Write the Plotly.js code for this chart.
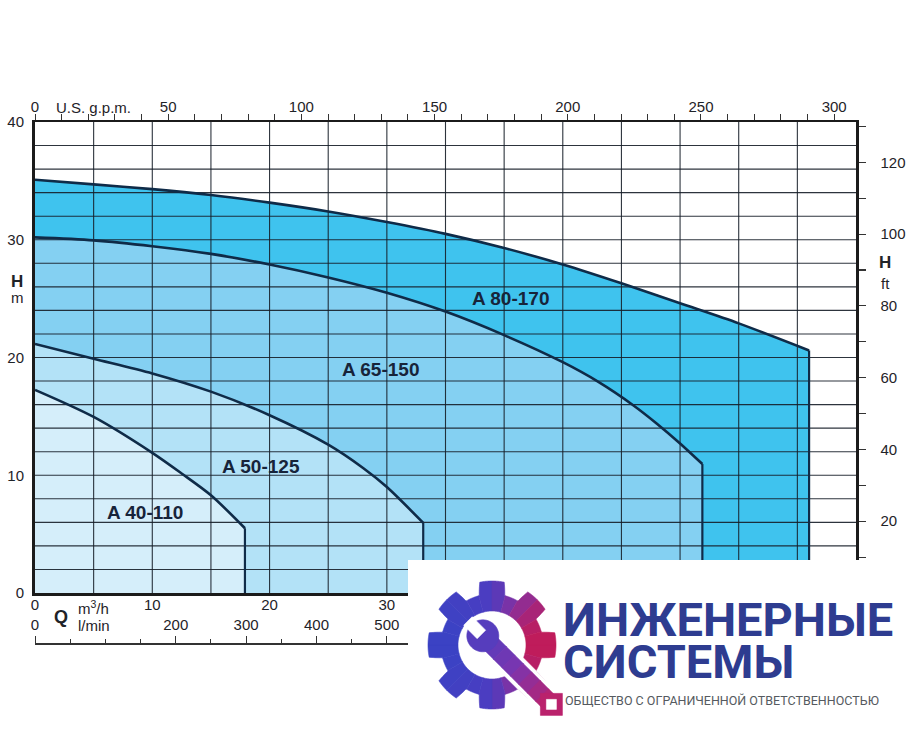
<!DOCTYPE html>
<html>
<head>
<meta charset="utf-8">
<script src="https://cdn.plot.ly/plotly-3.0.1.min.js"></script>
<style>html,body{margin:0;padding:0;background:#fff}#chart{width:908px;height:743px}</style>
</head>
<body>
<div id="chart"></div>
<script>
// ---------------- data ----------------
const pumpNames = ['A 80-170', 'A 65-150', 'A 50-125', 'A 40-110'];

// flow Q in m3/h, head H in m
const q80 = [0, 5, 10, 15, 20, 25, 30, 35, 40, 45, 50, 55, 60, 66];
const h80 = [35.1, 34.7, 34.3, 33.8, 33.15, 32.4, 31.5, 30.5, 29.3, 27.9, 26.3, 24.6, 22.9, 20.6];

const q65 = [0, 5, 10, 15, 20, 25, 30, 35, 40, 45, 48, 51, 53, 55, 56.9];
const h65 = [30.2, 29.95, 29.45, 28.8, 27.9, 26.8, 25.5, 23.9, 21.9, 19.6, 17.95, 15.95, 14.4, 12.7, 10.95];

const q50 = [0, 5, 10, 15, 20, 25, 28, 30, 33.1];
const h50 = [21.15, 19.9, 18.65, 17.1, 15.1, 12.6, 10.6, 9.0, 5.95];

const q40 = [0, 5, 10, 12.5, 15, 17.9];
const h40 = [17.25, 14.95, 11.9, 10.15, 8.3, 5.5];

const qTicks = [0, 10, 20, 30];
const hTicks = [0, 10, 20, 30, 40];
const gpmTicks = [0, 50, 100, 150, 200, 250, 300];
const lminTicks = [0, 200, 300, 400, 500];
const ftTicks = [20, 40, 60, 80, 100, 120];

// ---------------- constants / styles ----------------
const Q_MAX = 70, H_MAX = 40;
const GPM = 4.40287, LPM = 1000 / 60, FT = 3.28084;
const FONT = 'Liberation Sans, Arial, sans-serif';
const INK = '#1f2328';
const CURVE = '#0f2b48';

const series = [
  {q: q80, h: h80, fill: '#3fc3ee'},
  {q: q65, h: h65, fill: '#84d0f2'},
  {q: q50, h: h50, fill: '#b3e2f7'},
  {q: q40, h: h40, fill: '#d5eefa'}
];

// pixel helpers for decorative layout (paper coords)
const L = 35, R = 856, T = 122, PB = 643; // plot left/right/top, paper bottom
const px = x => (x - L) / (R - L);
const py = y => (PB - y) / (PB - T);

const traces = [];
series.forEach(s => {
  traces.push({
    x: s.q, y: s.h, type: 'scatter', mode: 'lines',
    line: {width: 0, color: s.fill, shape: 'spline', smoothing: 0.8},
    fill: 'tozeroy', fillcolor: s.fill, hoverinfo: 'skip'
  });
});

// grid (drawn above fills, below curves)
const gx = [], gy = [];
for (let q = 5; q < Q_MAX; q += 5) { gx.push(q, q, null); gy.push(0, H_MAX, null); }
for (let h = 2; h < H_MAX; h += 2) { gx.push(0, Q_MAX, null); gy.push(h, h, null); }
traces.push({x: gx, y: gy, type: 'scatter', mode: 'lines', connectgaps: false,
  line: {color: 'rgba(22,30,40,0.9)', width: 1.1}, hoverinfo: 'skip'});

series.forEach(s => {
  const n = s.q.length;
  traces.push({x: s.q, y: s.h, type: 'scatter', mode: 'lines',
    line: {color: CURVE, width: 2.6, shape: 'spline', smoothing: 0.8}, hoverinfo: 'skip'});
  traces.push({x: [s.q[n - 1], s.q[n - 1]], y: [s.h[n - 1], 0], type: 'scatter', mode: 'lines',
    line: {color: CURVE, width: 2.2}, hoverinfo: 'skip'});
});

// secondary unit axes (same top curve expressed in other units, invisible)
traces.push({x: q80.map(v => v * GPM), y: h80, xaxis: 'x2', yaxis: 'y', type: 'scatter', mode: 'lines',
  line: {width: 0}, opacity: 0, hoverinfo: 'skip'});
traces.push({x: q80.map(v => v * LPM), y: h80, xaxis: 'x3', yaxis: 'y', type: 'scatter', mode: 'lines',
  line: {width: 0}, opacity: 0, hoverinfo: 'skip'});
traces.push({x: q80, y: h80.map(v => v * FT), xaxis: 'x', yaxis: 'y2', type: 'scatter', mode: 'lines',
  line: {width: 0}, opacity: 0, hoverinfo: 'skip'});

// ---------------- logo graphic (gear + wrench) as shapes ----------------
const shapes = [
  {type: 'rect', xref: 'paper', yref: 'paper', x0: px(408), x1: px(912), y0: py(748), y1: py(560),
    fillcolor: '#ffffff', line: {width: 0}, layer: 'above'}
];
const P = (x, y) => px(x).toFixed(5) + ',' + py(y).toFixed(5);
const poly = (pts, color) => shapes.push({type: 'path', xref: 'paper', yref: 'paper', layer: 'above',
  path: 'M' + pts.map(p => P(p[0], p[1])).join(' L') + ' Z', fillcolor: color,
  line: {color: color, width: 0.6}});
function hex2rgb(h) { return [1, 3, 5].map(i => parseInt(h.substr(i, 2), 16)); }
function grad(stops, t) {
  t = Math.max(0, Math.min(1, t));
  for (let i = 1; i < stops.length; i++) {
    if (t <= stops[i][0]) {
      const a = stops[i - 1], b = stops[i], f = (t - a[0]) / (b[0] - a[0]);
      const ca = hex2rgb(a[1]), cb = hex2rgb(b[1]);
      return 'rgb(' + ca.map((c, k) => Math.round(c + (cb[k] - c) * f)).join(',') + ')';
    }
  }
  return stops[stops.length - 1][1];
}
const GC = [492, 645];
const R_OUT = 64, R_ROOT = 51, R_HOLE = 34;
const gearStops = [[0, '#3b42c4'], [0.5, '#4d3cc0'], [0.75, '#86309f'], [1, '#c01c5a']];
function gearR(deg) {
  let d = ((deg + 90) % 45 + 45) % 45; if (d > 22.5) d -= 45; d = Math.abs(d);
  if (d <= 11) return R_OUT;
  if (d >= 14.5) return R_ROOT;
  return R_OUT - (d - 11) / 3.5 * (R_OUT - R_ROOT);
}
const rad = Math.PI / 180;
for (let a0 = 0; a0 < 360; a0 += 15) {
  const pts = [];
  for (let a = a0; a <= a0 + 15 + 1e-9; a += 0.5) {
    const r = gearR(a); pts.push([GC[0] + r * Math.cos(a * rad), GC[1] + r * Math.sin(a * rad)]);
  }
  for (let a = a0 + 15; a >= a0 - 1e-9; a -= 1.5) {
    pts.push([GC[0] + R_HOLE * Math.cos(a * rad), GC[1] + R_HOLE * Math.sin(a * rad)]);
  }
  const mid = (a0 + 7.5) * rad;
  poly(pts, grad(gearStops, (Math.cos(mid) + 1) / 2));
}
// wrench, in a frame rotated 45 degrees
const U = [Math.SQRT1_2, Math.SQRT1_2], V = [-Math.SQRT1_2, Math.SQRT1_2];
const W = (s, t) => [GC[0] + s * U[0] + t * V[0], GC[1] + s * U[1] + t * V[1]];
const wrStops = [[0, '#4840c2'], [0.5, '#7a35b0'], [1, '#c81e5e']];
const wrT = s => (s + 30) / 125;
const circle = (s, r, n) => { const p = []; for (let i = 0; i < n; i++) { const a = i * 2 * Math.PI / n;
  p.push(W(s + r * Math.cos(a), r * Math.sin(a))); } return p; };
const square = (c, half) => [[c[0] - half, c[1] - half], [c[0] + half, c[1] - half], [c[0] + half, c[1] + half], [c[0] - half, c[1] + half]];
const END_S = 84, HEAD_S = -13;
// white outline
poly([W(-14, -13), W(END_S, -13), W(END_S, 13), W(-14, 13)], '#ffffff');
poly(circle(HEAD_S, 20, 48), '#ffffff');
poly(square(W(END_S, 0), 15), '#ffffff');
// handle in gradient segments
for (let s = -13; s < END_S; s += 12) {
  const s1 = Math.min(s + 12.5, END_S);
  poly([W(s, -9), W(s1, -9), W(s1, 9), W(s, 9)], grad(wrStops, wrT(s + 6)));
}
poly(circle(HEAD_S, 16, 48), grad(wrStops, wrT(HEAD_S)));
poly([W(-34, -6), W(-15, -6), W(-15, 6), W(-34, 6)], '#ffffff');
poly(square(W(END_S, 0), 11), grad(wrStops, wrT(END_S)));
poly(square(W(END_S, 0), 5), '#ffffff');

// ---------------- annotations ----------------
const ann = [];
const labelPos = [[40.5, 25.0], [29.5, 19.0], [19.3, 10.75], [9.4, 6.8]];
pumpNames.forEach((name, i) => {
  ann.push({x: labelPos[i][0], y: labelPos[i][1], xref: 'x', yref: 'y', text: name, showarrow: false,
    font: {family: FONT, size: 19, color: '#17243a', weight: 'bold'}});
});
const textAnn = (text, x, y, opts) => Object.assign({x: px(x), y: py(y), xref: 'paper', yref: 'paper',
  text: text, showarrow: false, xanchor: 'left', yanchor: 'middle',
  font: {family: FONT, size: 15, color: INK}}, opts || {});
ann.push(textAnn('U.S. g.p.m.', 54, 108));
ann.push(textAnn('<b>H</b>', 17, 281, {xanchor: 'center', font: {family: FONT, size: 17, color: INK}}));
ann.push(textAnn('m', 17, 297, {xanchor: 'center'}));
ann.push(textAnn('<b>H</b>', 885, 262, {xanchor: 'center', font: {family: FONT, size: 17, color: INK}}));
ann.push(textAnn('ft', 885, 283, {xanchor: 'center'}));
ann.push(textAnn('<b>Q</b>', 61, 617, {xanchor: 'center', font: {family: FONT, size: 18, color: INK}}));
ann.push(textAnn('m<sup>3</sup>/h', 76, 607));
ann.push(textAnn('l/min', 76, 625));
// logo texts
const LOGO_FONT = 'Roboto, Noto Sans, sans-serif';
ann.push(textAnn('ИНЖЕНЕРНЫЕ', 561, 619, {font: {family: LOGO_FONT, size: 47, color: '#2e3c90', weight: 700}}));
ann.push(textAnn('СИСТЕМЫ', 561, 661, {font: {family: LOGO_FONT, size: 47, color: '#2e3c90', weight: 700}}));
ann.push(textAnn('ОБЩЕСТВО С ОГРАНИЧЕННОЙ ОТВЕТСТВЕННОСТЬЮ', 563, 700, {font: {family: LOGO_FONT, size: 12.5, color: '#555a60'}}));

const tickFont = {family: FONT, size: 15, color: INK};

const layout = {
  width: 908, height: 743,
  margin: {l: L, r: 908 - R, t: T, b: 743 - PB, pad: 0},
  paper_bgcolor: '#ffffff', plot_bgcolor: '#ffffff',
  showlegend: false,
  xaxis: {domain: [0, 1], range: [0, Q_MAX], tickvals: qTicks, ticks: '', showgrid: false, zeroline: false,
    showline: true, linecolor: '#1b1b1b', linewidth: 2.5, tickfont: tickFont, anchor: 'y', ticklabelstandoff: -4},
  xaxis2: {overlaying: 'x', side: 'top', anchor: 'y', range: [0, Q_MAX * GPM], tickvals: gpmTicks,
    ticks: 'outside', ticklen: 6, tickcolor: '#333', tickwidth: 1, ticklabelstandoff: -4,
    minor: {dtick: 10, ticks: 'outside', ticklen: 6, tickcolor: '#333', tickwidth: 1, showgrid: false},
    showgrid: false, zeroline: false, showline: true, linecolor: '#1b1b1b', linewidth: 2, tickfont: tickFont},
  xaxis3: {overlaying: 'x', anchor: 'free', position: 0, side: 'top', range: [0, Q_MAX * LPM],
    tickvals: lminTicks, ticks: 'outside', ticklen: 7, tickcolor: '#333', tickwidth: 1,
    minor: {dtick: 50, ticks: 'outside', ticklen: 4, tickcolor: '#333', tickwidth: 1, showgrid: false},
    showgrid: false, zeroline: false, showline: true, linecolor: '#333', linewidth: 1.5, tickfont: tickFont,
    ticklabelstandoff: 0},
  yaxis: {domain: [py(593), 1], range: [0, H_MAX], tickvals: hTicks, ticks: '', showgrid: false, zeroline: false,
    showline: true, linecolor: '#1b1b1b', linewidth: 3, tickfont: tickFont, ticklabelstandoff: 5, anchor: 'x'},
  yaxis2: {overlaying: 'y', side: 'right', anchor: 'x', range: [0, H_MAX * FT], tickvals: ftTicks,
    ticks: 'outside', ticklen: 7, tickcolor: '#333', tickwidth: 1.2,
    minor: {dtick: 10, ticks: 'outside', ticklen: 7, tickcolor: '#333', tickwidth: 1.2, showgrid: false},
    showgrid: false, zeroline: false, showline: true, linecolor: '#1b1b1b', linewidth: 2.5, tickfont: tickFont,
    ticklabelstandoff: 12},
  shapes: shapes,
  annotations: ann
};

Plotly.newPlot('chart', traces, layout, {staticPlot: true, displayModeBar: false});
</script>
</body>
</html>
